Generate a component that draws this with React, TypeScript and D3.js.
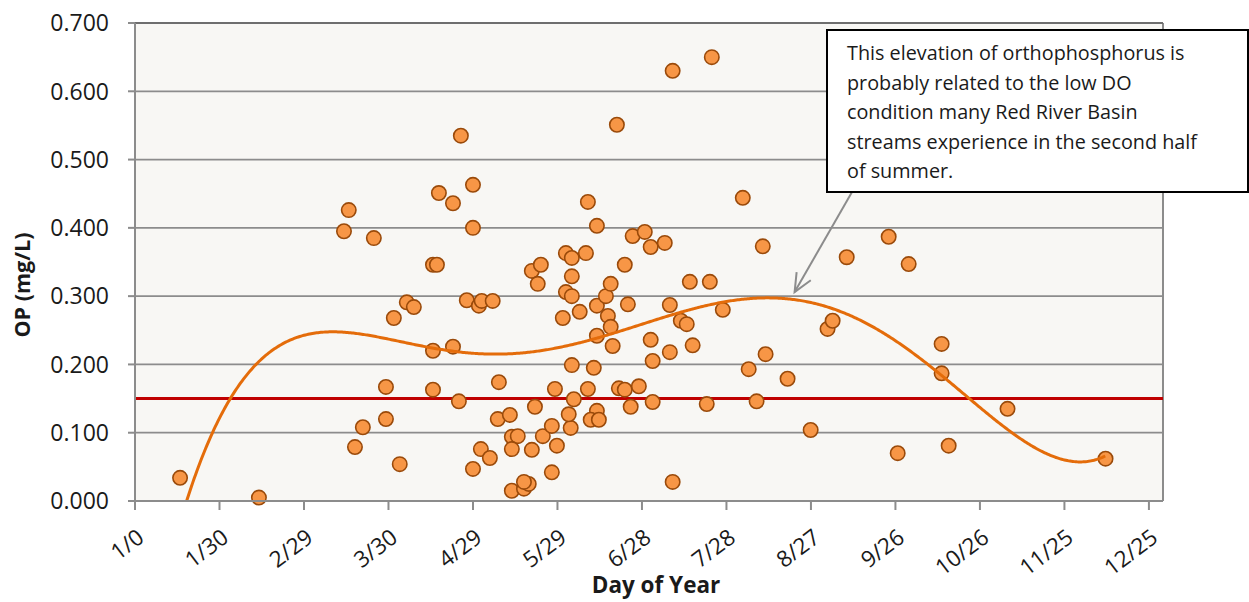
import React from 'react';
import * as d3 from 'd3';

// ---- data ----
const dayOfYear = [
  16.0, 44.0, 74.2, 75.9, 78.1, 80.9, 84.8, 89.1, 89.1, 91.9, 94.0, 96.5, 99.0, 105.8, 107.2, 105.8, 105.8, 107.9, 112.9, 112.9,
  115.0, 115.7, 117.8, 120.0, 120.0, 120.0, 122.1, 123.1, 122.8, 126.0, 127.0, 129.2, 128.8, 133.1, 133.8, 135.9, 133.8, 133.8, 138.1, 139.8,
  138.1, 140.9, 140.9, 144.1, 143.0, 142.0, 144.8, 148.0, 149.8, 148.0, 149.1, 151.9, 153.0, 155.1, 160.1, 155.1, 153.0, 155.1, 157.9, 155.1,
  154.7, 154.0, 155.8, 160.8, 164.0, 160.8, 162.9, 164.0, 164.0, 164.0, 161.8, 164.7, 167.2, 168.9, 167.9, 168.9, 169.6, 171.1, 171.8, 173.9,
  173.9, 175.0, 176.0, 176.7, 178.9, 181.0, 183.1, 183.1, 183.8, 183.8, 188.1, 189.9, 189.9, 190.9, 190.9, 193.8, 195.9, 197.0, 198.0, 203.0,
  204.1, 204.8, 208.7, 215.8, 217.9, 220.7, 222.9, 223.9, 231.7, 239.9, 245.9, 247.7, 252.7, 267.6, 270.8, 274.7, 286.4, 286.4, 288.9, 309.8,
  344.6,
];
const opValue = [
  0.034, 0.005, 0.395, 0.426, 0.079, 0.108, 0.385, 0.167, 0.120, 0.268, 0.054, 0.291, 0.284, 0.346, 0.346, 0.220, 0.163, 0.451, 0.436, 0.226,
  0.146, 0.535, 0.294, 0.463, 0.400, 0.047, 0.286, 0.293, 0.076, 0.063, 0.293, 0.174, 0.120, 0.126, 0.094, 0.095, 0.076, 0.015, 0.018, 0.025,
  0.028, 0.075, 0.337, 0.346, 0.318, 0.138, 0.095, 0.110, 0.081, 0.042, 0.164, 0.268, 0.363, 0.356, 0.363, 0.329, 0.306, 0.300, 0.277, 0.199,
  0.107, 0.127, 0.149, 0.438, 0.403, 0.164, 0.195, 0.242, 0.286, 0.132, 0.119, 0.119, 0.300, 0.318, 0.271, 0.255, 0.227, 0.551, 0.165, 0.163,
  0.346, 0.288, 0.138, 0.388, 0.168, 0.394, 0.372, 0.236, 0.205, 0.145, 0.378, 0.287, 0.218, 0.630, 0.028, 0.264, 0.259, 0.321, 0.228, 0.142,
  0.321, 0.650, 0.280, 0.444, 0.193, 0.146, 0.373, 0.215, 0.179, 0.104, 0.252, 0.264, 0.357, 0.387, 0.070, 0.347, 0.230, 0.187, 0.081, 0.135,
  0.062,
];
// polynomial trendline
const trendDay = [18.5, 23.1, 27.7, 34.4, 41.9, 50.4, 58.6, 70.3, 82.3, 94.0, 105.8, 120.0, 132.0, 143.7, 155.4, 164.0, 173.2, 185.3, 197.0, 208.7, 225.4, 236.0, 247.7, 259.8, 271.5, 283.2, 295.3, 307.0, 318.7, 328.3, 334.7, 342.5, 344.6];
const trendOP = [0.0, 0.056, 0.107, 0.151, 0.196, 0.226, 0.240, 0.247, 0.243, 0.233, 0.224, 0.217, 0.215, 0.220, 0.231, 0.240, 0.250, 0.265, 0.277, 0.290, 0.299, 0.294, 0.283, 0.261, 0.228, 0.195, 0.154, 0.114, 0.079, 0.062, 0.057, 0.063, 0.066];

const xTickDays = [0, 30, 60, 90, 120, 150, 180, 210, 240, 270, 300, 330, 360];
const xTickLabels = ['1/0', '1/30', '2/29', '3/30', '4/29', '5/29', '6/28', '7/28', '8/27', '9/26', '10/26', '11/25', '12/25'];
const yTicks = [0, 0.1, 0.2, 0.3, 0.4, 0.5, 0.6, 0.7];
const criterionOP = 0.15;
const noteLines = [
  'This elevation of orthophosphorus is',
  'probably related to the low DO',
  'condition many Red River Basin',
  'streams experience in the second half',
  'of summer.',
];
const arrowTip = { day: 234.2, op: 0.306 };

const FONT = '"Open Sans", "DejaVu Sans", sans-serif';

// least-squares polynomial smoothing of the sampled trendline
function polyFit(xs: number[], ys: number[], deg: number) {
  const n = deg + 1;
  const lo = d3.min(xs)!, hi = d3.max(xs)!;
  const norm = (v: number) => (2 * (v - lo)) / (hi - lo) - 1;
  const A: number[][] = Array.from({ length: n }, () => new Array(n + 1).fill(0));
  xs.forEach((xv, k) => {
    const t = norm(xv);
    const pw: number[] = [];
    for (let i = 0; i < 2 * n; i++) pw.push(Math.pow(t, i));
    for (let i = 0; i < n; i++) {
      for (let j = 0; j < n; j++) A[i][j] += pw[i + j];
      A[i][n] += ys[k] * pw[i];
    }
  });
  for (let c = 0; c < n; c++) {
    let p = c;
    for (let r = c + 1; r < n; r++) if (Math.abs(A[r][c]) > Math.abs(A[p][c])) p = r;
    [A[c], A[p]] = [A[p], A[c]];
    for (let r = 0; r < n; r++) {
      if (r === c) continue;
      const f = A[r][c] / A[c][c];
      for (let k = c; k <= n; k++) A[r][k] -= f * A[c][k];
    }
  }
  const coef = A.map((row, i) => row[n] / row[i]);
  return (v: number) => {
    const t = norm(v);
    let s = 0;
    for (let i = n - 1; i >= 0; i--) s = s * t + coef[i];
    return s;
  };
}

export default function App() {
  const W = 1249, H = 602;
  const L = 135, R = 1163, T = 23, B = 501;
  const x = d3.scaleLinear().domain([0, 365]).range([L, R]);
  const y = d3.scaleLinear().domain([0, 0.7]).range([B, T]);

  const f = polyFit(trendDay, trendOP, 6);
  const start = d3.min(dayOfYear)!;
  const end = d3.max(dayOfYear)!;
  const trendPts: [number, number][] = d3.range(start, end + 0.01, 0.5).map(d => [d, f(d)]);
  const line = d3.line<[number, number]>().x(d => x(d[0])).y(d => y(d[1]));

  const pts = dayOfYear.map((d, i) => ({ d, v: opValue[i] }));

  // annotation box (layout)
  const box = { x: 827, y: 30, w: 421, h: 162 };
  const tipX = x(arrowTip.day), tipY = y(arrowTip.op);
  const tailX = 852, tailY = box.y + box.h;
  const ang = Math.atan2(tipY - tailY, tipX - tailX);
  const headLen = 20, headAng = 0.42;
  const b1 = [tipX - headLen * Math.cos(ang - headAng), tipY - headLen * Math.sin(ang - headAng)];
  const b2 = [tipX - headLen * Math.cos(ang + headAng), tipY - headLen * Math.sin(ang + headAng)];

  return (
    <svg width={W} height={H} style={{ position: 'absolute', left: 0, top: 0, background: '#fff' }} fontFamily={FONT}>
      <defs>
        <clipPath id="plotClip"><rect x={L} y={T} width={R - L} height={B - T} /></clipPath>
      </defs>
      <rect x={L} y={T} width={R - L} height={B - T} fill="#f8f7f4" />
      {yTicks.map(t => (
        <line key={'g' + t} x1={L} x2={R} y1={y(t)} y2={y(t)} stroke="#8c8c8c" strokeWidth={1.7} />
      ))}
      <line x1={R} x2={R} y1={T} y2={B} stroke="#8c8c8c" strokeWidth={2} />
      <line x1={L} x2={R} y1={T} y2={T} stroke="#6e6e6e" strokeWidth={2} />
      <line x1={L} x2={R} y1={y(criterionOP)} y2={y(criterionOP)} stroke="#c00000" strokeWidth={3} />
      {pts.map((p, i) => (
        <circle key={i} cx={x(p.d)} cy={y(p.v)} r={7.2} fill="#f79646" stroke="#9a4a0a" strokeWidth={1.6} />
      ))}
      <path d={line(trendPts) || ''} fill="none" stroke="#e46c0a" strokeWidth={3} clipPath="url(#plotClip)" />
      <line x1={L} x2={L} y1={T} y2={B} stroke="#8c8c8c" strokeWidth={2} />
      <line x1={L} x2={R} y1={B} y2={B} stroke="#8c8c8c" strokeWidth={2} />
      {yTicks.map(t => (
        <g key={'yt' + t}>
          <line x1={L - 7} x2={L} y1={y(t)} y2={y(t)} stroke="#8c8c8c" strokeWidth={2} />
          <text x={109} y={y(t)} dy="0.36em" textAnchor="end" fontSize={23} fill="#1a1a1a">{t.toFixed(3)}</text>
        </g>
      ))}
      {xTickDays.map((d, i) => (
        <g key={'xt' + d}>
          <line x1={x(d)} x2={x(d)} y1={B} y2={B + 9} stroke="#8c8c8c" strokeWidth={2} />
          <text transform={`translate(${x(d) + 1},${B + 27}) rotate(-37)`} textAnchor="end" dy="0.7em" fontSize={22.5} fill="#1a1a1a">{xTickLabels[i]}</text>
        </g>
      ))}
      <text x={(L + R) / 2 + 7} y={593} textAnchor="middle" fontSize={22.5} fontWeight="bold" fill="#1a1a1a">Day of Year</text>
      <text transform={`translate(30,285) rotate(-90)`} textAnchor="middle" fontSize={21.5} fontWeight="bold" fill="#1a1a1a">OP (mg/L)</text>
      <line x1={tailX} y1={tailY} x2={tipX} y2={tipY} stroke="#8c8c8c" strokeWidth={2} />
      <polyline points={`${b1[0]},${b1[1]} ${tipX},${tipY} ${b2[0]},${b2[1]}`} fill="none" stroke="#8c8c8c" strokeWidth={2} />
      <rect x={box.x} y={box.y} width={box.w} height={box.h} fill="#fff" stroke="#000" strokeWidth={2} />
      {noteLines.map((s, i) => (
        <text key={'n' + i} x={847} y={60 + i * 29.5} fontSize={19.8} fill="#1a1a1a">{s}</text>
      ))}
    </svg>
  );
}
